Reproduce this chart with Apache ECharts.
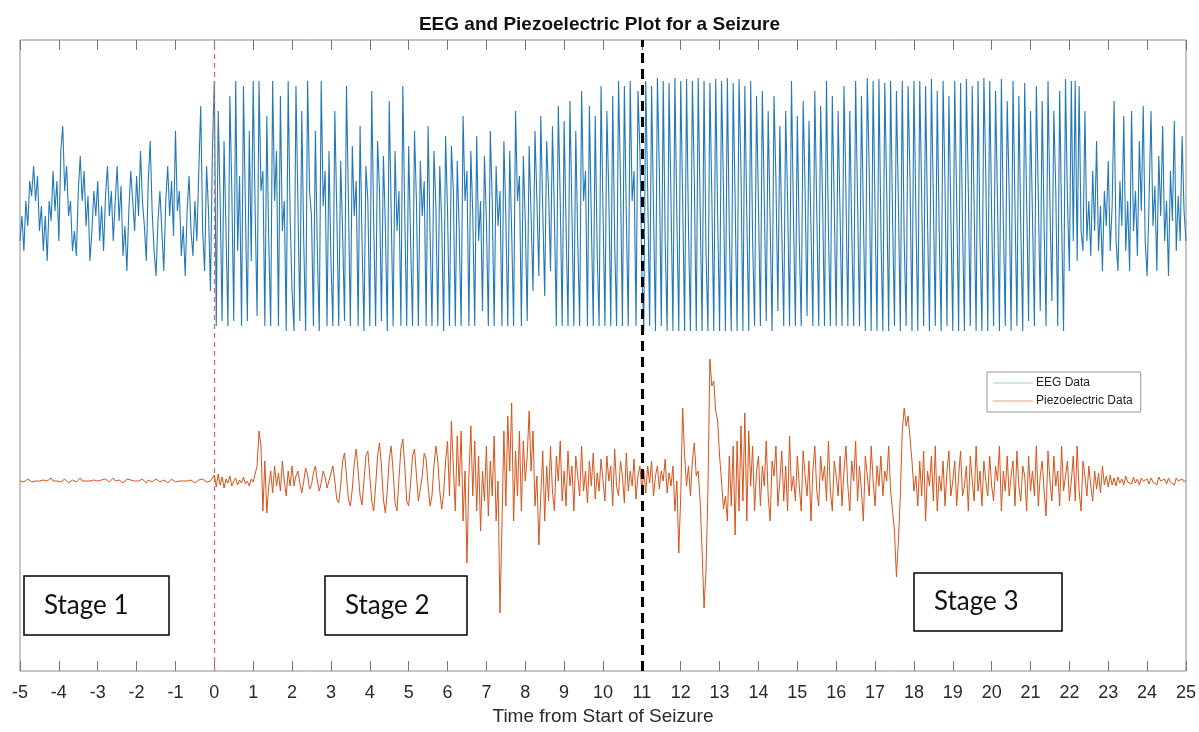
<!DOCTYPE html>
<html>
<head>
<meta charset="utf-8">
<title>EEG and Piezoelectric Plot for a Seizure</title>
<script src="https://cdn.jsdelivr.net/npm/echarts@6/dist/echarts.min.js"></script>
<style>
  html, body { margin: 0; padding: 0; background: #fff; }
  #chart { width: 1199px; height: 732px; }
</style>
</head>
<body>
<div id="chart"></div>
<script>
// samples every 0.05 s from -5 s to 25 s (601 points), values in plot units
var TIME_START = -5;
var TIME_STEP = 0.05;
var xTicks = [-5,-4,-3,-2,-1,0,1,2,3,4,5,6,7,8,9,10,11,12,13,14,15,16,17,18,19,20,21,22,23,24,25];

var eegData = [
  // -5 .. -0.05 (before seizure)
  430,455,420,470,445,490,475,505,470,495,440,465,420,455,410,470,450,500,460,490,
  430,520,545,480,505,455,470,420,440,415,480,515,470,500,445,475,410,440,480,455,
  490,430,465,420,475,505,455,480,430,470,505,450,485,415,445,400,460,500,470,440,
  495,455,520,470,445,410,490,530,460,420,395,450,480,440,400,470,505,455,490,435,
  540,460,480,415,445,395,460,495,440,415,470,430,500,565,440,400,505,460,380,520,
  // 0
  590,
  // 0.05 .. 11.00
  345,560,470,350,530,440,345,575,480,350,590,420,495,345,585,460,350,540,410,590,
  460,355,590,480,500,345,555,430,345,590,470,520,345,575,440,470,340,590,455,380,
  340,585,470,350,560,430,340,590,480,455,345,540,420,340,590,465,500,345,520,410,
  345,560,460,345,510,440,350,585,470,345,525,455,490,345,545,430,340,505,470,345,
  580,450,345,530,480,350,515,445,340,570,460,345,520,440,480,345,585,455,345,525,
  430,345,540,470,345,510,455,490,345,545,440,345,520,465,345,505,450,340,535,460,
  345,525,480,345,510,440,345,555,470,500,345,520,455,345,535,430,470,360,515,450,
  345,540,470,345,505,445,480,345,530,455,345,520,440,345,560,470,495,345,515,450,
  350,525,455,380,540,470,395,555,460,375,530,480,400,545,455,345,565,470,345,550,
  445,345,570,460,345,540,430,345,580,470,500,345,565,450,345,555,420,345,585,460,
  345,560,475,345,575,430,345,590,490,345,585,455,345,590,470,500,345,580,520,400,
  // 11.05 .. 22.00
  340,590,480,345,585,460,340,593,500,345,590,430,340,588,470,340,593,455,340,590,
  470,340,592,440,340,590,490,340,593,460,340,590,420,340,588,475,340,592,455,340,
  590,480,340,593,440,340,588,470,340,592,500,340,585,455,340,590,430,345,575,465,
  345,580,470,350,560,450,340,575,490,360,545,440,345,560,470,345,590,455,345,555,
  430,345,570,480,355,550,445,345,580,460,345,565,470,345,590,440,345,575,465,345,
  560,455,345,585,480,345,560,440,345,590,470,345,575,455,340,593,500,340,590,460,
  340,592,440,340,588,480,340,590,455,345,580,470,340,590,430,345,585,490,340,590,
  460,340,590,475,345,585,450,340,592,470,345,580,440,340,590,485,345,575,455,340,
  590,470,340,588,445,340,592,480,345,585,460,340,590,430,340,593,495,340,590,455,
  345,580,470,340,592,450,345,570,480,340,590,465,345,575,440,340,588,470,350,560,
  455,345,585,475,360,570,445,345,590,465,370,560,480,345,580,450,340,592,470,400,
  // 22.05 .. 25.00 (after seizure)
  590,430,590,410,585,440,420,560,430,470,415,500,440,530,420,465,400,480,445,510,
  420,465,570,430,400,490,445,555,420,470,400,560,440,480,415,530,460,565,430,395,
  470,560,445,485,400,515,455,545,430,470,395,500,450,550,420,475,430,535,460,430
];

var piezoData = [
  // -5 .. -0.05
  190,191,189,190,192,190,189,191,190,188,190,192,191,189,190,191,193,190,189,190,
  191,189,190,192,190,188,190,191,190,189,191,193,190,189,190,192,190,189,191,190,
  190,188,191,190,192,191,189,190,193,190,189,191,190,188,190,192,190,191,189,190,
  191,190,189,192,190,188,191,190,189,190,192,191,189,190,191,190,188,190,192,190,
  189,191,190,188,190,192,190,189,191,190,188,190,191,189,192,190,189,191,190,188,
  // 0
  196,
  // 0.05 .. 11.00
  184,197,186,194,183,192,188,195,185,190,193,186,191,188,194,187,190,185,192,189,
  188,205,240,225,160,210,158,185,200,178,205,185,198,180,210,190,175,200,185,205,
  185,195,200,188,178,190,203,196,182,186,198,205,190,180,188,200,194,183,190,198,
  205,190,172,168,185,210,218,195,172,165,182,208,222,200,175,166,190,215,220,195,
  170,160,185,215,228,205,172,158,180,212,225,200,168,160,192,222,232,205,170,165,
  188,215,222,196,170,168,195,218,212,185,165,175,205,225,210,180,162,178,210,230,
  175,250,205,160,235,185,240,150,200,108,195,245,175,230,160,215,140,200,170,225,
  155,210,175,235,150,190,58,145,240,165,255,200,268,150,220,175,240,160,230,190,
  215,260,200,240,165,195,126,175,220,150,205,170,225,180,160,215,190,230,170,200,
  165,220,185,205,160,215,195,175,225,180,200,168,210,185,218,172,198,180,212,190,
  170,215,190,205,165,222,185,175,210,195,168,218,180,200,185,212,172,195,205,180,
  // 11.05 .. 22.00
  200,178,205,188,210,175,195,205,182,200,190,212,178,198,185,205,160,190,118,175,
  263,215,185,205,175,210,228,195,200,170,120,63,100,180,312,285,290,260,250,215,
  190,162,175,150,215,165,225,136,230,160,245,170,258,150,240,185,225,160,200,215,
  165,205,185,230,175,150,210,195,225,165,190,220,170,205,160,235,180,195,170,215,
  185,160,220,195,175,210,150,200,225,180,165,215,190,205,170,230,180,160,210,195,
  175,215,165,200,225,185,160,210,190,230,170,205,180,150,215,195,175,225,190,165,
  205,185,215,175,200,190,225,180,160,140,94,130,175,240,263,245,255,233,210,180,
  195,165,210,175,220,150,200,185,215,170,225,160,195,180,210,165,200,220,175,190,
  210,165,195,220,175,185,205,160,215,190,170,225,180,200,165,210,190,175,215,185,
  170,205,190,225,160,200,180,215,175,195,210,165,220,185,170,205,195,160,215,180,
  200,175,225,165,195,210,180,155,220,190,170,215,185,200,165,225,180,195,210,170,
  // 22.05 .. 25.00
  190,215,170,225,180,160,210,195,175,205,185,170,200,182,198,178,205,186,195,184,
  196,186,193,185,194,188,192,186,195,189,191,187,194,188,192,186,193,190,188,192,
  187,193,189,191,186,194,190,188,192,187,193,189,191,186,193,190,188,192,189,191
];

function pairs(values) {
  var out = [];
  for (var i = 0; i < values.length; i++) {
    out.push([+(TIME_START + i * TIME_STEP).toFixed(2), values[i]]);
  }
  return out;
}

var chart = echarts.init(document.getElementById('chart'));

function stageBox(label, x, y, w, h) {
  return {
    type: 'group',
    children: [
      { type: 'rect', shape: { x: x, y: y, width: w, height: h },
        style: { fill: '#fff', stroke: '#000', lineWidth: 1.5 }, z: 100 },
      { type: 'text', z: 101,
        style: { text: label, x: x + 20, y: y + h / 2, fill: '#111',
                 font: '26px Lato, "Open Sans", sans-serif',
                 textAlign: 'left', textVerticalAlign: 'middle', verticalAlign: 'middle' } }
    ]
  };
}

var option = {
  animation: false,
  backgroundColor: '#fff',
  title: {
    text: 'EEG and Piezoelectric Plot for a Seizure',
    left: 'center',
    top: 10,
    textStyle: { fontFamily: '"Liberation Sans", Arial, sans-serif', fontSize: 19, fontWeight: 'bold', color: '#111' }
  },
  grid: { left: 20, right: 13, top: 40, bottom: 61, show: true, borderColor: '#8c8c8c', borderWidth: 1 },
  legend: {
    left: 987, top: 372, orient: 'vertical',
    icon: 'rect',
    data: [
      { name: 'EEG Data', itemStyle: { color: '#9ccfe6' } },
      { name: 'Piezoelectric Data', itemStyle: { color: '#e8a27f' } }
    ],
    itemWidth: 40, itemHeight: 1, itemGap: 6,
    padding: [5, 8, 5, 6],
    borderColor: '#999', borderWidth: 1,
    backgroundColor: '#fff',
    textStyle: { fontFamily: '"Liberation Sans", Arial, sans-serif', fontSize: 12, color: '#222', padding: [0, 0, 0, -2] }
  },
  xAxis: [
    {
      type: 'value', min: -5, max: 25, interval: 1, position: 'bottom',
      axisLine: { show: false },
      axisTick: { show: true, inside: true, length: 10, lineStyle: { color: '#777' } },
      splitLine: { show: false },
      axisLabel: {
        margin: 13, color: '#2a2a2a', fontSize: 18,
        fontFamily: '"Liberation Sans", Arial, sans-serif',
        formatter: function (v) { return xTicks.indexOf(v) >= 0 ? String(v) : ''; }
      },
      name: 'Time from Start of Seizure', nameLocation: 'middle', nameGap: 36,
      nameTextStyle: { fontFamily: '"Liberation Sans", Arial, sans-serif', fontSize: 19, color: '#2a2a2a' }
    },
    {
      type: 'value', min: -5, max: 25, interval: 1, position: 'top',
      axisLine: { show: false },
      axisTick: { show: true, inside: true, length: 10, lineStyle: { color: '#777' } },
      axisLabel: { show: false },
      splitLine: { show: false }
    }
  ],
  yAxis: {
    type: 'value', min: 0, max: 631,
    axisLine: { show: false }, axisTick: { show: false },
    axisLabel: { show: false }, splitLine: { show: false }
  },
  series: [
    {
      name: 'EEG Data', type: 'line', symbol: 'none', showSymbol: false,
      data: pairs(eegData),
      lineStyle: { color: '#2379b8', width: 1.1 },
      itemStyle: { color: '#2379b8' },
      markLine: {
        silent: true, symbol: 'none', label: { show: false },
        data: [
          { xAxis: 0, lineStyle: { color: '#e06a6a', width: 1.3, type: [5, 4] } },
          { xAxis: 11, lineStyle: { color: '#000', width: 3, type: [10, 6] } }
        ]
      }
    },
    {
      name: 'Piezoelectric Data', type: 'line', symbol: 'none', showSymbol: false,
      data: pairs(piezoData),
      lineStyle: { color: '#d95319', width: 1 },
      itemStyle: { color: '#d95319' }
    }
  ],
  graphic: [
    stageBox('Stage 1', 24, 576, 145, 59),
    stageBox('Stage 2', 325, 576, 142, 59),
    stageBox('Stage 3', 914, 573, 148, 58)
  ]
};

chart.setOption(option);
</script>
</body>
</html>
